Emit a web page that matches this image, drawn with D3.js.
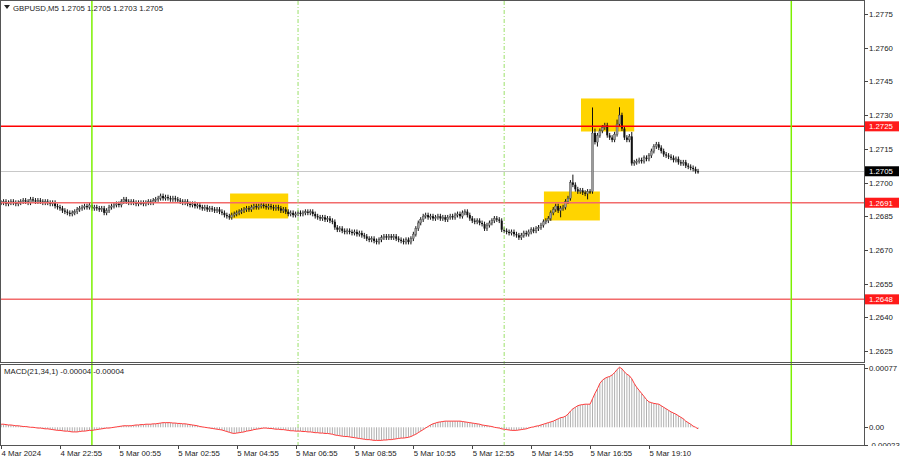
<!DOCTYPE html>
<html>
<head>
<meta charset="utf-8">
<script src="https://cdn.jsdelivr.net/npm/d3@7"></script>
<style>
  body { margin: 0; background: #fff; }
  svg text { font-family: "Liberation Sans", Arial, sans-serif; font-size: 7.8px; fill: #222; }
</style>
</head>
<body>
<script>
// GBPUSD M5 closes, in pips above 1.2600 (one value per 5-minute bar)
var closes = [
  91, 91.5, 90.5, 91, 91.5, 91, 90.5, 91, 91.5, 92, 91.5, 91,
  92.5, 92, 91.5, 92, 91.5, 91, 91.5, 91, 90.5, 91, 89.5, 89,
  88.5, 87.5, 87, 86.5, 86, 86.5, 87, 88, 88.5, 89, 89.5, 89, 90,
  88.5, 89, 88.5, 88, 88.5, 86.5, 87.5, 89, 89.5, 90, 90.5, 90, 91.5,
  92.5, 91.5, 91, 91.5, 91, 90.5, 91, 91, 90.5, 91, 91.5, 91,
  92, 92.5, 93, 94, 93, 93.5, 93, 92.5, 93, 92.5, 92,
  91.5, 91, 91.5, 90.5, 90, 90.5, 89.5, 90, 89,
  88.5, 89, 88, 88.5, 88, 87.5, 88, 87, 86.5,
  85.5, 85, 84.5, 85.5, 86,
  86.5, 87, 87.5, 88, 88.5, 88, 89, 89.5, 89, 89.5, 90,
  89.5, 89, 89.5, 89, 88.5, 89, 88.5, 87.5, 88, 87,
  86, 86.5, 85.5, 86, 86.5,
  86, 86.5, 87, 86.5, 87, 86, 85,
  84.5, 84, 84.5, 83.5, 84, 83, 82.5,
  80, 79, 79.5, 78.5, 78,
  78.5, 78, 77.5, 78, 77, 77.5, 76.5, 76,
  75, 74.5, 75, 74, 73.5, 74.5, 75.5, 76,
  75.5, 76, 75.5, 76, 75, 74.5, 74,
  73.5, 74.5, 73.5, 75, 77,
  79.5, 82, 83.5, 85,
  85.5, 84.5, 85, 84, 84.5, 85, 84, 84.5, 83.5, 84.5, 85, 84.5, 85.5, 86, 85,
  86.5, 87, 85.5, 84, 83, 82.5, 83, 82, 81.5,
  79.5, 81, 82, 83, 84, 83.5, 83,
  79, 78.5, 78, 77.5, 78, 77, 76.5,
  75.5, 76.5, 77.5, 77, 78, 79, 78.5, 79.5, 80, 81,
  82.5, 83, 84,
  86.5, 88, 89.5, 87.5, 88.5, 89,
  91.5, 93, 100, 99,
  97, 96, 96.5, 95.5, 95, 96, 96,
  122,
  118, 121, 123,
  124.5, 125.5,
  121, 120, 119, 121.5,
  126,
  130,
  124,
  120, 119, 120.5,
  108.5,
  109, 109.5, 110, 109.5, 111, 110.5, 112,
  114, 116, 117, 115.5,
  114, 112.5,
  112, 111.5, 111, 110, 110.5, 109, 108.5, 109, 107.5, 107, 106.5,
  106, 105, 105
];

// MACD(21,34,1) main value per bar, in units of 0.00001
var macd = [
  4, 4, 3.5, 3, 3, 2.5, 2, 2, 1.5, 1, 1, 0.5,
  0, 0, -0.5, -1, -1, -1.5, -2, -2, -2.5, -3, -3.5, -4,
  -4, -4.5, -5, -5, -5.5, -6, -6, -6, -5.5, -5, -5, -4.5, -4,
  -4, -3.5, -3, -2.5, -2, -1.5, -1, -1, -0.5, 0, 0.5, 1, 1.5,
  2, 2, 2, 2, 2.5, 3, 3, 3.5, 3.5, 4, 4, 4,
  4.5, 4.5, 5, 5.5, 6, 6, 6, 6, 5.5, 5.5, 5,
  5, 4.5, 4.5, 4, 3.5, 3, 2.5, 2, 1,
  0.5, 0, -0.5, -1, -1.5, -2, -2.5, -3, -3.5,
  -4.5, -5.5, -6.5, -7.5, -8,
  -7.5, -7, -6.5, -6, -5, -4.5, -4, -3, -2.5, -2, -1.5,
  -1, -1, -1.5, -1.5, -2, -2.5, -2.5, -3, -3, -3.5,
  -4, -4.5, -4.5, -5, -5,
  -5, -5.5, -5.5, -6, -6, -6.5, -7,
  -7, -7.5, -7.5, -8, -8, -8.5, -9,
  -10, -10.5, -11, -11.5, -12,
  -12, -12.5, -13, -13.5, -14, -14.5, -15, -15.5,
  -16, -16, -16.5, -17, -17, -17, -17, -16.5,
  -16.5, -16, -16, -15.5, -15, -14.5, -14,
  -14, -13.5, -13, -12, -10.5,
  -9, -7, -5, -3,
  -1, 1, 3, 4.5, 5.5, 6.5, 7, 7.5, 8, 8, 8, 8, 8, 8, 8,
  7.5, 7, 6.5, 6, 5.5, 5, 4.5, 4, 3,
  2.5, 2, 1.5, 1, 0, -0.5, -1,
  -2, -2.5, -3, -3.5, -4, -4, -4,
  -3.5, -3, -2.5, -2, -1, 0, 0.5, 1.5, 2, 3,
  4, 5, 6,
  7, 8, 9.5, 11, 12.5, 13,
  14.5, 17, 21, 24,
  26, 28, 29, 29.5, 30, 30, 30,
  37,
  44, 50, 57,
  61, 63.5,
  65, 66, 68, 71,
  75,
  78,
  76,
  72, 69, 67,
  63,
  57, 52, 48, 44, 40, 36, 33,
  32, 31, 30.5, 30,
  28, 26,
  24, 22, 20, 18.5, 17, 15, 13, 11, 8, 6, 4,
  1.5, 0, -2
];

// long wicks seen on the picture: [bar, pips]
var highWicks = [[233, 103.5], [241, 133.4], [242, 124], [252, 133.5], [251, 128], [257, 122.5]];
var lowWicks = [[241, 95], [257, 107.5], [243, 116], [239, 92.5], [228, 84.5]];

var timeLabels = [
  [0, "4 Mar 2024"], [24, "4 Mar 22:55"], [48, "5 Mar 00:55"], [72, "5 Mar 02:55"],
  [96, "5 Mar 04:55"], [120, "5 Mar 06:55"], [144, "5 Mar 08:55"], [168, "5 Mar 10:55"],
  [192, "5 Mar 12:55"], [216, "5 Mar 14:55"], [240, "5 Mar 16:55"], [264, "5 Mar 19:10"]
];
var priceTicks = [1.2775, 1.2760, 1.2745, 1.2730, 1.2715, 1.2700, 1.2685, 1.2670, 1.2655, 1.2640, 1.2625];
var levels = [1.2725, 1.2691, 1.2648];
var lastPrice = 1.2705;
var daySeparators = [37, 322];
var sessionLines = [121, 205];
// yellow zones: [fromBar, toBar, topPips, bottomPips]
var zones = [[93.3, 117, 95.1, 84], [221.2, 244, 96, 83.1], [236.3, 258, 137.4, 122.7]];
var macdTicks = [0.00077, 0, -0.00023];

var width = 900, height = 460,
    plotRight = 864,
    mainBottom = 362,
    macdTop = 364,
    macdBottom = 445;

function pip(p){ return 1.26 + p / 10000; }

var svg = d3.select("body").append("svg")
    .attr("width", width)
    .attr("height", height);

var x = d3.scaleLinear().domain([0, 350]).range([1.1, 1.1 + 350 * 2.454]);
var y = d3.scaleLinear().domain([1.2625, 1.2775]).range([351, 14]);
var ym = d3.scaleLinear().domain([-0.00023, 0.00077]).range([445, 368]);

//main panel clip
svg.append("clipPath").attr("id", "mainClip")
    .append("rect").attr("x", 0).attr("y", 0).attr("width", plotRight).attr("height", mainBottom);

var main = svg.append("g").attr("clip-path", "url(#mainClip)");

//yellow zones
main.selectAll(".zone")
    .data(zones)
    .enter()
    .append("rect")
    .attr("class", "zone")
    .attr("x", function(d){ return x(d[0]); })
    .attr("width", function(d){ return x(d[1]) - x(d[0]); })
    .attr("y", function(d){ return y(pip(d[2])); })
    .attr("height", function(d){ return y(pip(d[3])) - y(pip(d[2])); })
    .style("fill", "#ffd400");

//current price line
main.append("line")
    .attr("x1", 0).attr("x2", plotRight)
    .attr("y1", Math.round(y(lastPrice)) + 0.5).attr("y2", Math.round(y(lastPrice)) + 0.5)
    .style("stroke", "#c8c8c8").style("stroke-width", 1);

//candles
var bars = closes.map(function(c, i){
    var o = i == 0 ? c : closes[i - 1];
    return {i: i, o: o, c: c};
});
var hiMap = new Map(highWicks), loMap = new Map(lowWicks);

main.selectAll(".wick")
    .data(bars)
    .enter()
    .append("line")
    .attr("class", "wick")
    .attr("x1", function(d){ return x(d.i); })
    .attr("x2", function(d){ return x(d.i); })
    .attr("y1", function(d){
        return hiMap.has(d.i) ? y(pip(hiMap.get(d.i))) : y(pip(Math.max(d.o, d.c))) - 2.4;
    })
    .attr("y2", function(d){
        return loMap.has(d.i) ? y(pip(loMap.get(d.i))) : y(pip(Math.min(d.o, d.c))) + 2.4;
    })
    .style("stroke", "#111").style("stroke-width", 1);

main.selectAll(".body")
    .data(bars)
    .enter()
    .append("rect")
    .attr("class", "body")
    .attr("x", function(d){ return x(d.i) - 1; })
    .attr("width", 2)
    .attr("y", function(d){ return y(pip(Math.max(d.o, d.c))); })
    .attr("height", function(d){ return Math.max(1, Math.abs(y(pip(d.o)) - y(pip(d.c)))); })
    .style("fill", function(d){ return d.c > d.o ? "#9a9a9a" : "#111"; })
    .style("stroke", function(d){ return d.c > d.o ? "#444" : "none"; })
    .style("stroke-width", 0.4);

//levels
main.selectAll(".level")
    .data(levels)
    .enter()
    .append("line")
    .attr("class", "level")
    .attr("x1", 0).attr("x2", plotRight)
    .attr("y1", function(d){ return y(d); })
    .attr("y2", function(d){ return y(d); })
    .style("stroke", function(d, i){ return i == 0 ? "#ff0000" : "#f26b6b"; })
    .style("stroke-width", 1.5);

//vertical separators, across both panels
svg.selectAll(".daySep")
    .data(daySeparators)
    .enter()
    .append("line")
    .attr("class", "daySep")
    .attr("x1", function(d){ return x(d); }).attr("x2", function(d){ return x(d); })
    .attr("y1", 1).attr("y2", macdBottom)
    .style("stroke", "#7cf000").style("stroke-width", 1.5);

svg.selectAll(".sessLine")
    .data(sessionLines)
    .enter()
    .append("line")
    .attr("class", "sessLine")
    .attr("x1", function(d){ return x(d); }).attr("x2", function(d){ return x(d); })
    .attr("y1", 1).attr("y2", macdBottom)
    .style("stroke", "#9be06a").style("stroke-width", 1)
    .style("stroke-dasharray", "4,2,1,2");

//MACD histogram + line
var macdG = svg.append("g");
macdG.selectAll(".hist")
    .data(macd)
    .enter()
    .append("rect")
    .attr("class", "hist")
    .attr("x", function(d, i){ return x(i) - 0.5; })
    .attr("width", 1)
    .attr("y", function(d){ return Math.min(ym(d / 100000), ym(0)); })
    .attr("height", function(d){ return Math.abs(ym(d / 100000) - ym(0)); })
    .style("fill", "#b0b0b0");

var macdLine = d3.line()
    .x(function(d, i){ return x(i); })
    .y(function(d){ return ym(d / 100000); });

macdG.append("path")
    .datum(macd)
    .attr("d", macdLine)
    .style("fill", "none")
    .style("stroke", "#ff3b3b")
    .style("stroke-width", 1);

//panel frames
svg.append("rect")
    .attr("x", 0.5).attr("y", 0.5)
    .attr("width", plotRight).attr("height", mainBottom)
    .style("fill", "none").style("stroke", "#555");
svg.append("rect")
    .attr("x", 0.5).attr("y", macdTop + 0.5)
    .attr("width", plotRight).attr("height", macdBottom - macdTop)
    .style("fill", "none").style("stroke", "#555");

//price axis
var pAxis = svg.append("g");
pAxis.selectAll(".ptick")
    .data(priceTicks)
    .enter()
    .append("line")
    .attr("x1", plotRight + 0.5).attr("x2", plotRight + 4)
    .attr("y1", function(d){ return Math.round(y(d)) + 0.5; })
    .attr("y2", function(d){ return Math.round(y(d)) + 0.5; })
    .style("stroke", "#444");
pAxis.selectAll(".plabel")
    .data(priceTicks)
    .enter()
    .append("text")
    .attr("x", plotRight + 5)
    .attr("y", function(d){ return y(d) + 3; })
    .text(function(d){ return d.toFixed(4); });

//tagged prices
var tags = levels.map(function(d){ return {v: d, bg: "#ff1a1a"}; })
    .concat([{v: lastPrice, bg: "#000"}]);
var tagG = pAxis.selectAll(".tag")
    .data(tags)
    .enter()
    .append("g");
tagG.append("rect")
    .attr("x", plotRight + 1).attr("width", 34)
    .attr("y", function(d){ return y(d.v) - 5; })
    .attr("height", 10)
    .style("fill", function(d){ return d.bg; });
tagG.append("text")
    .attr("x", plotRight + 5)
    .attr("y", function(d){ return y(d.v) + 3; })
    .style("fill", "#fff")
    .text(function(d){ return d.v.toFixed(4); });

//MACD axis
pAxis.selectAll(".mlabel")
    .data(macdTicks)
    .enter()
    .append("text")
    .attr("x", plotRight + 5)
    .attr("y", function(d){ return ym(d) + 3; })
    .text(function(d){ return d == 0 ? "0.00" : d.toFixed(5); });
pAxis.selectAll(".mtick")
    .data(macdTicks)
    .enter()
    .append("line")
    .attr("x1", plotRight + 0.5).attr("x2", plotRight + 4)
    .attr("y1", function(d){ return Math.round(ym(d)) + 0.5; })
    .attr("y2", function(d){ return Math.round(ym(d)) + 0.5; })
    .style("stroke", "#444");
svg.append("rect")
    .attr("x", plotRight + 1).attr("y", macdBottom + 1)
    .attr("width", width - plotRight).attr("height", height - macdBottom)
    .style("fill", "#fff");

//time axis
var tAxis = svg.append("g");
tAxis.selectAll(".ttick")
    .data(timeLabels)
    .enter()
    .append("line")
    .attr("x1", function(d){ return Math.round(x(d[0])) + 0.5; })
    .attr("x2", function(d){ return Math.round(x(d[0])) + 0.5; })
    .attr("y1", macdBottom + 1).attr("y2", macdBottom + 4)
    .style("stroke", "#444");
tAxis.selectAll(".tlabel")
    .data(timeLabels)
    .enter()
    .append("text")
    .attr("x", function(d){ return x(d[0]) + 0.5; })
    .attr("y", 456)
    .text(function(d){ return d[1]; });

//header texts
svg.append("path")
    .attr("d", "M4,5 L10,5 L7,9 Z")
    .style("fill", "#222");
svg.append("text")
    .attr("x", 13).attr("y", 10.5)
    .text("GBPUSD,M5  1.2705 1.2705 1.2703 1.2705");
svg.append("text")
    .attr("x", 4).attr("y", 373.5)
    .text("MACD(21,34,1) -0.00004 -0.00004");
</script>
</body>
</html>
